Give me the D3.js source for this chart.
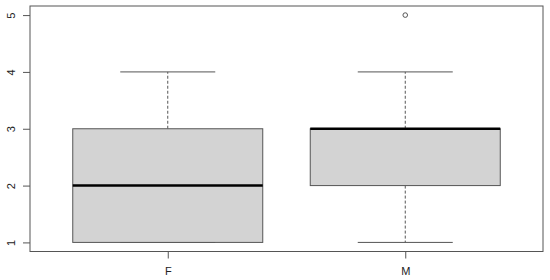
<!DOCTYPE html>
<html>
<head>
<meta charset="utf-8">
<script src="https://cdn.jsdelivr.net/npm/d3@7"></script>
<style>
  body { margin: 0; background: #fff; }
  svg { display: block; font-family: "Liberation Sans", Arial, sans-serif; }
</style>
</head>
<body>
<svg id="chart" width="550" height="280"></svg>
<script>
// boxplot stats per group
const categories = ["F", "M"]
const whiskerLow = [1, 1]
const quart1 = [1, 2]
const medians = [2, 3]
const quart3 = [3, 3]
const whiskerHigh = [4, 4]
const outliers = [[], [5]]
const yTicks = [1, 2, 3, 4, 5]

const svg = d3.select("#chart")
const plotLeft = 30, plotRight = 543, plotTop = 6, plotBottom = 251.5
const ink = "#555"

// R style: positions 1..n, xlim 0.5..n+0.5 extended by 4%
const x = d3.scaleLinear().domain([0.42, 2.58]).range([plotLeft, plotRight])
const y = d3.scaleLinear().domain([0.84, 5.16]).range([plotBottom, plotTop])

const boxes = categories.map((c, i) => ({
	name: c,
	pos: i + 1,
	lo: whiskerLow[i],
	q1: quart1[i],
	med: medians[i],
	q3: quart3[i],
	hi: whiskerHigh[i],
	out: outliers[i]
}))

const g = svg.append("g")
boxes.forEach(b => {
	const grp = g.append("g")
	// whiskers
	grp.append("line")
		.attr("x1", x(b.pos)).attr("x2", x(b.pos))
		.attr("y1", y(b.q3)).attr("y2", y(b.hi))
		.attr("stroke", ink).attr("stroke-dasharray", "3,2")
	grp.append("line")
		.attr("x1", x(b.pos)).attr("x2", x(b.pos))
		.attr("y1", y(b.q1)).attr("y2", y(b.lo))
		.attr("stroke", ink).attr("stroke-dasharray", "3,2")
	// caps
	;[b.lo, b.hi].forEach(v => {
		grp.append("line")
			.attr("x1", x(b.pos - 0.2)).attr("x2", x(b.pos + 0.2))
			.attr("y1", y(v)).attr("y2", y(v))
			.attr("stroke", ink)
	})
	// box
	grp.append("rect")
		.attr("x", x(b.pos - 0.4))
		.attr("y", y(b.q3))
		.attr("width", x(b.pos + 0.4) - x(b.pos - 0.4))
		.attr("height", y(b.q1) - y(b.q3))
		.attr("fill", "#d3d3d3")
		.attr("stroke", ink)
	// median
	grp.append("line")
		.attr("x1", x(b.pos - 0.4)).attr("x2", x(b.pos + 0.4))
		.attr("y1", y(b.med)).attr("y2", y(b.med))
		.attr("stroke", "#000").attr("stroke-width", 2.5)
	// outliers
	grp.selectAll("circle").data(b.out).join("circle")
		.attr("cx", x(b.pos)).attr("cy", d => y(d))
		.attr("r", 2.3)
		.attr("fill", "none").attr("stroke", ink)
})

// frame
svg.append("rect")
	.attr("x", plotLeft).attr("y", plotTop)
	.attr("width", plotRight - plotLeft).attr("height", plotBottom - plotTop)
	.attr("fill", "none").attr("stroke", ink)

// y axis
const yAxis = svg.append("g")
	.attr("transform", `translate(${plotLeft},0)`)
	.call(d3.axisLeft(y).tickValues(yTicks).tickSize(7).tickFormat(d3.format("d")))
yAxis.select(".domain").remove()
yAxis.selectAll("line").attr("stroke", ink)
yAxis.selectAll("text")
	.attr("x", 0).attr("dy", null).attr("y", 0)
	.attr("transform", "translate(-19,0) rotate(-90)")
	.attr("text-anchor", "middle")
	.attr("dominant-baseline", "central")
	.attr("font-size", 11).attr("fill", "#222")

// x axis
const xAxis = svg.append("g")
	.attr("transform", `translate(0,${plotBottom})`)
	.call(d3.axisBottom(x).tickValues(boxes.map(b => b.pos)).tickSize(7)
		.tickFormat(d => categories[d - 1]))
xAxis.select(".domain").remove()
xAxis.selectAll("line").attr("stroke", ink)
xAxis.selectAll("text")
	.attr("y", 20).attr("dy", "0.35em")
	.attr("font-size", 11).attr("fill", "#222")
</script>
</body>
</html>
